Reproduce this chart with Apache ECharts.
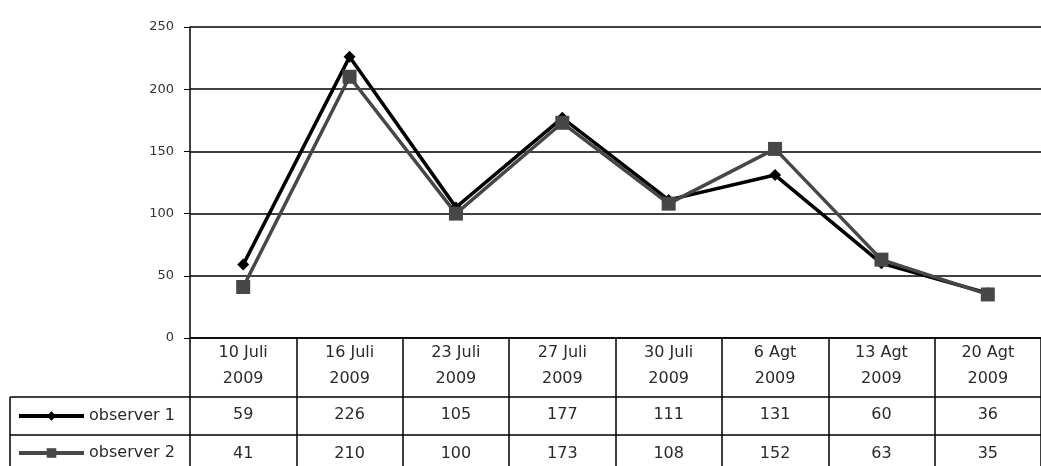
<!DOCTYPE html>
<html>
<head>
<meta charset="utf-8">
<script src="https://cdn.jsdelivr.net/npm/echarts@6/dist/echarts.min.js"></script>
<style>
  html, body { margin: 0; padding: 0; background: #fff; }
  #chart { width: 1041px; height: 466px; }
</style>
</head>
<body>
<div id="chart"></div>
<script>
const categories = ["10 Juli\n2009", "16 Juli\n2009", "23 Juli\n2009", "27 Juli\n2009", "30 Juli\n2009", "6 Agt\n2009", "13 Agt\n2009", "20 Agt\n2009"];
const observer1 = [59, 226, 105, 177, 111, 131, 60, 36];
const observer2 = [41, 210, 100, 173, 108, 152, 63, 35];
const yTicks = [0, 50, 100, 150, 200, 250];

const chartDom = document.getElementById("chart");
const myChart = echarts.init(chartDom);

const font = "DejaVu Sans";
const txt = "#2a2a2a";

// table rows are extra x axes sitting under the plot
const rowAxis = (data, offset, margin) => ({
  type: "category",
  position: "bottom",
  offset: offset,
  data: data.map(String),
  axisLine: { show: true, lineStyle: { color: "#000", width: 1.5 } },
  axisTick: { show: false },
  axisLabel: { margin: margin, fontSize: 16, color: txt, fontFamily: font, interval: 0 },
  splitLine: { show: false },
});

const option = {
  animation: false,
  grid: { left: 190, right: 0, top: 27, bottom: 128 },
  legend: {
    orient: "vertical",
    left: 17,
    top: 408,
    padding: 0,
    itemWidth: 65,
    itemHeight: 12,
    itemGap: 21,
    lineStyle: { width: 4 },
    textStyle: { fontSize: 16, color: txt, fontFamily: font },
    data: ["observer 1", "observer 2"],
  },
  xAxis: [
    {
      type: "category",
      position: "bottom",
      data: categories,
      axisLine: { show: true, lineStyle: { color: "#000", width: 1.5 } },
      axisTick: { show: true, length: 128, lineStyle: { color: "#000", width: 1.5 } },
      axisLabel: { margin: 2, fontSize: 16, lineHeight: 26, color: txt, fontFamily: font, interval: 0 },
      splitLine: { show: false },
    },
    rowAxis(observer1, 59, 10),
    rowAxis(observer2, 97, 11),
  ],
  yAxis: {
    type: "value",
    min: yTicks[0],
    max: yTicks[yTicks.length - 1],
    interval: 50,
    axisLine: { show: true, lineStyle: { color: "#000", width: 1.5 } },
    axisTick: { show: true, length: 6, lineStyle: { color: "#000" } },
    axisLabel: { margin: 16, fontSize: 13, color: "#333", fontFamily: font },
    splitLine: { show: true, lineStyle: { color: "#000", width: 1.5 } },
  },
  series: [
    {
      name: "observer 1",
      type: "line",
      data: observer1,
      symbol: "diamond",
      symbolSize: 12,
      lineStyle: { color: "#000", width: 3.5 },
      itemStyle: { color: "#000" },
    },
    {
      name: "observer 2",
      type: "line",
      data: observer2,
      symbol: "rect",
      symbolSize: 14,
      lineStyle: { color: "#474747", width: 3.5 },
      itemStyle: { color: "#474747" },
    },
  ],
  graphic: [
    // left part of the data table (legend cells)
    { type: "line", shape: { x1: 10, y1: 397, x2: 190, y2: 397 }, style: { stroke: "#000", lineWidth: 1.5 } },
    { type: "line", shape: { x1: 10, y1: 435, x2: 190, y2: 435 }, style: { stroke: "#000", lineWidth: 1.5 } },
    { type: "line", shape: { x1: 10, y1: 397, x2: 10, y2: 466 }, style: { stroke: "#000", lineWidth: 1.5 } },
  ],
};
myChart.setOption(option);
</script>
</body>
</html>
